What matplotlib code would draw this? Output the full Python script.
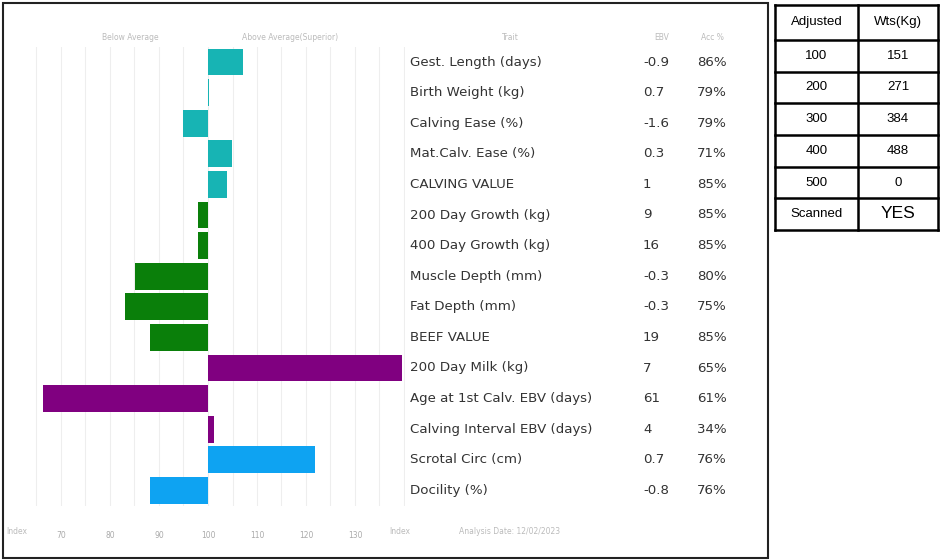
import matplotlib
matplotlib.use("Agg")
import matplotlib.pyplot as plt
import matplotlib.transforms as mtransforms
from matplotlib.patches import Rectangle
from matplotlib.lines import Line2D

# donnees
traits = ["Gest. Length (days)", "Birth Weight (kg)", "Calving Ease (%)", "Mat.Calv. Ease (%)",
          "CALVING VALUE", "200 Day Growth (kg)", "400 Day Growth (kg)", "Muscle Depth (mm)",
          "Fat Depth (mm)", "BEEF VALUE", "200 Day Milk (kg)", "Age at 1st Calv. EBV (days)",
          "Calving Interval EBV (days)", "Scrotal Circ (cm)", "Docility (%)"]
index_vals = [107.1, 100.3, 94.9, 104.9, 103.9, 98.0, 98.0, 85.1, 83.1, 88.2,
              139.6, 66.3, 101.2, 121.8, 88.2]
ebv = ["-0.9", "0.7", "-1.6", "0.3", "1", "9", "16", "-0.3", "-0.3", "19", "7", "61", "4", "0.7", "-0.8"]
acc = ["86%", "79%", "79%", "71%", "85%", "85%", "85%", "80%", "75%", "85%", "65%", "61%", "34%", "76%", "76%"]
groupe = ["calv"] * 5 + ["beef"] * 5 + ["fert"] * 3 + ["temp"] * 2
couleurs = {"calv": "#17b4b4", "beef": "#0a7f0a", "fert": "#800080", "temp": "#0ea3f2"}
ticks = [70, 80, 90, 100, 110, 120, 130]

tab_adj = ["100", "200", "300", "400", "500"]
tab_wts = ["151", "271", "384", "488", "0"]
scanned = "YES"

plt.rcParams['font.family'] = ['DejaVu Sans']

W, H = 940, 560
fig = plt.figure(figsize=(9.4, 5.6), dpi=100)

def fx(x):
    return x / W

def fy(y):
    return 1 - y / H

# axe des barres (pixels)
x0, x1 = 15, 405
y0, y1 = 46.7, 505.7
ax = fig.add_axes([fx(x0), fy(y1), fx(x1) - fx(x0), fy(y0) - fy(y1)])
ppu = 4.9
ax.set_xlim(100 - (208 - x0) / ppu, 100 + (x1 - 208) / ppu)
ax.set_ylim(len(traits) - 0.5, -0.5)

for x in range(65, 141, 5):
    ax.axvline(x, color="#eeeeee", linewidth=0.8, zorder=0)

for i, v in enumerate(index_vals):
    ax.barh(i, v - 100, left=100, height=0.88, color=couleurs[groupe[i]], zorder=2)

for s in ax.spines.values():
    s.set_visible(False)
ax.set_yticks([])
ax.set_xticks(ticks)
ax.set_xticklabels([str(t) for t in ticks], fontsize=5.5, color="#aaaaaa")
ax.tick_params(axis="x", length=0, pad=18)

# textes a droite
tr = mtransforms.blended_transform_factory(fig.transFigure, ax.transData)
for i in range(len(traits)):
    ax.text(fx(410), i, traits[i], transform=tr, ha="left", va="center", fontsize=9.6, color="#333333")
    ax.text(fx(643), i, ebv[i], transform=tr, ha="left", va="center", fontsize=9.6, color="#333333")
    ax.text(fx(697), i, acc[i], transform=tr, ha="left", va="center", fontsize=9.6, color="#333333")

# en-tetes et bas
gris = "#bbbbbb"
fig.text(fx(130), fy(37), "Below Average", ha="center", va="center", fontsize=5.5, color=gris)
fig.text(fx(290), fy(37), "Above Average(Superior)", ha="center", va="center", fontsize=5.5, color=gris)
fig.text(fx(510), fy(37), "Trait", ha="center", va="center", fontsize=5.5, color=gris)
fig.text(fx(662), fy(37), "EBV", ha="center", va="center", fontsize=5.5, color=gris)
fig.text(fx(712), fy(37), "Acc %", ha="center", va="center", fontsize=5.5, color=gris)
fig.text(fx(17), fy(532), "Index", ha="center", va="center", fontsize=5.5, color=gris)
fig.text(fx(400), fy(532), "Index", ha="center", va="center", fontsize=5.5, color=gris)
fig.text(fx(510), fy(532), "Analysis Date: 12/02/2023", ha="center", va="center", fontsize=5.5, color=gris)

# cadre
fig.patches.append(Rectangle((fx(3), fy(558)), fx(768) - fx(3), fy(3) - fy(558),
                             transform=fig.transFigure, fill=False, edgecolor="#222222", linewidth=1.5))

# tableau
tl, tm, tr_ = 775, 858, 938
lignes = [5, 40, 72, 103, 135, 167, 198, 230]
for y in lignes:
    fig.add_artist(Line2D([fx(tl), fx(tr_)], [fy(y), fy(y)], color="black", linewidth=1.8))
for x in [tl, tm, tr_]:
    fig.add_artist(Line2D([fx(x), fx(x)], [fy(lignes[0]), fy(lignes[-1])], color="black", linewidth=1.8))

tfont = ['Liberation Sans', 'DejaVu Sans']
cl, cr = (tl + tm) / 2, (tm + tr_) / 2
fig.text(fx(cl), fy(22.5), "Adjusted", ha="center", va="center", fontsize=9.5, family=tfont)
fig.text(fx(cr), fy(22.5), "Wts(Kg)", ha="center", va="center", fontsize=9.5, family=tfont)
for k in range(len(tab_adj)):
    yc = (lignes[k + 1] + lignes[k + 2]) / 2
    fig.text(fx(cl), fy(yc), tab_adj[k], ha="center", va="center", fontsize=9.5, family=tfont)
    fig.text(fx(cr), fy(yc), tab_wts[k], ha="center", va="center", fontsize=9.5, family=tfont)
yc = (lignes[-2] + lignes[-1]) / 2
fig.text(fx(cl), fy(yc), "Scanned", ha="center", va="center", fontsize=9.5, family=tfont)
fig.text(fx(cr), fy(yc), scanned, ha="center", va="center", fontsize=12.5, family=tfont)

fig.savefig("out.png", dpi=100)
